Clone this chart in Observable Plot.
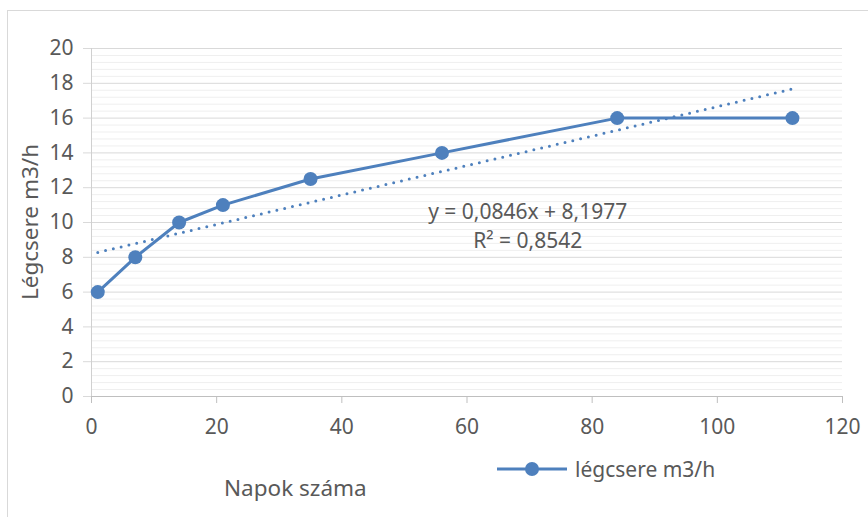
<!DOCTYPE html>
<html>
<head>
<meta charset="utf-8">
<script src="https://cdn.jsdelivr.net/npm/d3@7"></script>
<script src="https://cdn.jsdelivr.net/npm/@observablehq/plot@0.6"></script>
<style>
  body { margin: 0; background: #fff; }
  #wrap { position: relative; width: 868px; height: 517px; overflow: hidden;
          font-family: "Noto Sans", sans-serif; color: #595959; background: #fff; }
  #frame { position: absolute; left: 7px; top: 10px; width: 1000px; height: 1000px;
           border-left: 1px solid #d9d9d9; border-top: 1px solid #d9d9d9; box-sizing: border-box; }
  #chart { position: absolute; left: 0; top: 0; }
  .title { position: absolute; font-size: 22.5px; line-height: 30px; white-space: nowrap; }
  #ytitle { left: -70px; top: 207px; width: 200px; text-align: center; transform: rotate(-90deg); }
  #xtitle { left: 224px; top: 473px; }
  #legend { position: absolute; left: 497px; top: 454px; height: 30px; display: flex; align-items: center; gap: 8px;
            font-size: 21px; white-space: nowrap; }
</style>
</head>
<body>
<div id="wrap">
  <div id="frame"></div>
  <div id="chart"></div>
  <div id="ytitle" class="title"></div>
  <div id="xtitle" class="title"></div>
  <div id="legend"></div>
</div>
<script>
// ---- data ----
const days = [1, 7, 14, 21, 35, 56, 84, 112];
const airflow = [6, 8, 10, 11, 12.5, 14, 16, 16];
const xTicks = [0, 20, 40, 60, 80, 100, 120];
const yTicks = [0, 2, 4, 6, 8, 10, 12, 14, 16, 18, 20];
const seriesName = "légcsere m3/h";
const xTitle = "Napok száma";
const yTitle = "Légcsere m3/h";
const trendLabels = ["y = 0,0846x + 8,1977", "R² = 0,8542"];
const trendLabelAt = { x: 69.7, y: 9.9 };

const blue = "#4e80bd";
const data = days.map((d, i) => ({ day: d, value: airflow[i] }));
const minorTicks = d3.range(0, 51).filter(i => i % 5 !== 0).map(i => i * 0.4);

const chart = Plot.plot({
  width: 868,
  height: 517,
  marginLeft: 91,
  marginRight: 26,
  marginTop: 48,
  marginBottom: 121,
  style: { fontFamily: "Noto Sans", fontSize: "21px", color: "#595959", background: "transparent" },
  x: { domain: [0, 120] },
  y: { domain: [0, 20] },
  marks: [
    Plot.ruleY(minorTicks, { stroke: "#efefef", strokeWidth: 1 }),
    Plot.gridY(yTicks.filter(v => v > 0), { stroke: "#d9d9d9", strokeOpacity: 1 }),
    Plot.axisY(yTicks, { tickSize: 8, tickPadding: 10, stroke: "#d9d9d9", fill: "#595959", label: null, fontSize: 21 }),
    Plot.ruleX([0], { stroke: "#d0d0d0", y1: 0, y2: 20 }),
    Plot.axisX(xTicks, { tickSize: 7, tickPadding: 16, stroke: "#bfbfbf", fill: "#595959", label: null, fontSize: 21 }),
    Plot.ruleY([0], { stroke: "#bfbfbf" }),
    Plot.linearRegressionY(data, { x: "day", y: "value", ci: 0, stroke: blue, strokeWidth: 3,
      strokeDasharray: "0,8", strokeLinecap: "round" }),
    Plot.line(data, { x: "day", y: "value", stroke: blue, strokeWidth: 3 }),
    Plot.dot(data, { x: "day", y: "value", r: 7, fill: blue }),
    Plot.text([trendLabels.join("\n")], { x: () => trendLabelAt.x, y: () => trendLabelAt.y,
      text: d => d, lineHeight: 1.4, fill: "#595959", fontSize: 21, textAnchor: "middle" })
  ]
});
document.getElementById("chart").appendChild(chart);

document.getElementById("ytitle").textContent = yTitle;
document.getElementById("xtitle").textContent = xTitle;

const legend = document.getElementById("legend");
const sym = d3.create("svg").attr("width", 70).attr("height", 16);
sym.append("line").attr("x1", 0).attr("x2", 70).attr("y1", 8).attr("y2", 8)
  .attr("stroke", blue).attr("stroke-width", 3).attr("stroke-linecap", "round");
sym.append("circle").attr("cx", 35).attr("cy", 8).attr("r", 7).attr("fill", blue);
legend.appendChild(sym.node());
const lt = document.createElement("span");
lt.textContent = seriesName;
legend.appendChild(lt);
</script>
</body>
</html>
